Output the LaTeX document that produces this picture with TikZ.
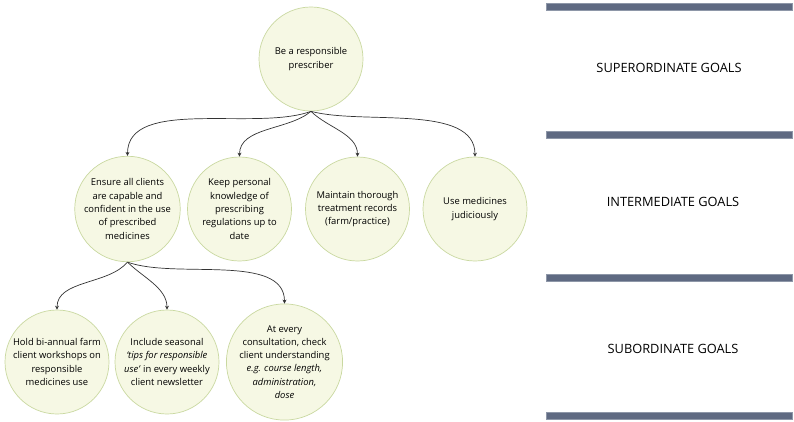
\documentclass[tikz,border=0pt]{standalone}
\usepackage{fontspec}
\setmainfont{Open Sans}
\usetikzlibrary{arrows.meta}
\definecolor{goalfill}{HTML}{F6F8E4}
\definecolor{goalline}{HTML}{C9D8A0}
\definecolor{barfill}{HTML}{5F6A82}
\definecolor{barline}{HTML}{8E97A8}
\begin{document}
\begin{tikzpicture}[x=1pt, y=-1pt, >={Stealth[length=4pt,width=4pt]},
    goal/.style={circle, draw=goalline, fill=goalfill, line width=0.7pt,
        minimum size=104pt, inner sep=0pt, align=center,
        font=\fontsize{9.4}{13.3}\selectfont},
    link/.style={->, line width=0.7pt, black!80},
    level/.style={font=\fontsize{12.8}{15}\selectfont},
    levelbar/.style={fill=barfill, draw=barline, line width=0.5pt}]
    \useasboundingbox (0,0) rectangle (794,422);
    % Goal circles
    \node[goal] (top) at (311,59) {Be a responsible\\prescriber};
    \node[goal] (mid1) at (127.5,209) {Ensure all clients\\are capable and\\confident in the use\\of prescribed\\medicines};
    \node[goal] (mid2) at (239.5,209) {Keep personal\\knowledge of\\prescribing\\regulations up to\\date};
    \node[goal] (mid3) at (357.5,209) {Maintain thorough\\treatment records\\(farm/practice)};
    \node[goal] (mid4) at (475,209) {Use medicines\\judiciously};
    \node[goal] (sub1) at (57,362) {Hold bi-annual farm\\client workshops on\\responsible\\medicines use};
    \node[goal] (sub2) at (167,362) {Include seasonal\\\textit{‘tips for responsible}\\\textit{use’} in every weekly\\client newsletter};
    \node[goal] (sub3) at (284.5,362) {At every\\consultation, check\\client understanding\\\textit{e.g. course length,}\\\textit{administration,}\\\textit{dose}};

    % Connectors
    \draw[link] (top.south) to[out=-160, in=90, looseness=0.8] (mid1.north);
    \draw[link] (top.south) to[out=-140, in=90, looseness=0.9] (mid2.north);
    \draw[link] (top.south) to[out=-45, in=90, looseness=0.9] (mid3.north);
    \draw[link] (top.south) to[out=-15, in=90, looseness=0.8] (mid4.north);
    \draw[link] (mid1.south) to[out=-130, in=90, looseness=0.9] (sub1.north);
    \draw[link] (mid1.south) to[out=-45, in=90, looseness=0.9] (sub2.north);
    \draw[link] (mid1.south) to[out=-20, in=90, looseness=0.8] (sub3.north);

    % Level bars and labels
    \foreach \y in {7,134.5,277.5,415.5}
        \draw[levelbar] (546,\y-3.5) rectangle (792,\y+3.5);
    \node[level] (supl) at (669,68) {SUPERORDINATE GOALS};
    \node[level] (intl) at (673,202) {INTERMEDIATE GOALS};
    \node[level] (subl) at (673,349) {SUBORDINATE GOALS};
\end{tikzpicture}
\end{document}
